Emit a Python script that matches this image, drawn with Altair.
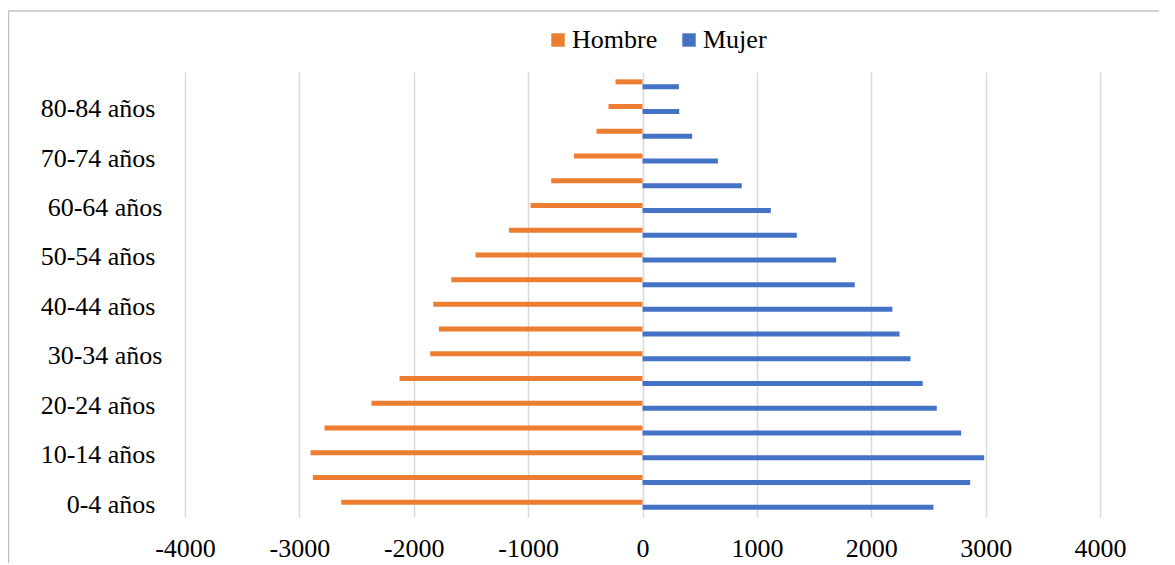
import altair as alt
import pandas as pd

# Age groups, bottom to top
grupos = ["0-4 años", "5-9 años", "10-14 años", "15-19 años", "20-24 años",
          "25-29 años", "30-34 años", "35-39 años", "40-44 años", "45-49 años",
          "50-54 años", "55-59 años", "60-64 años", "65-69 años", "70-74 años",
          "75-79 años", "80-84 años", "85 y más años"]
hombre = [-2634, -2882, -2902, -2780, -2370, -2124, -1856, -1780, -1830,
          -1672, -1460, -1168, -979, -798, -600, -402, -297, -236]
mujer = [2544, 2865, 2987, 2786, 2573, 2450, 2343, 2247, 2185,
         1856, 1693, 1349, 1122, 868, 659, 434, 321, 318]
etiquetas = ["0-4 años", "10-14 años", "20-24 años", "30-34 años", "40-44 años",
             "50-54 años", "60-64 años", "70-74 años", "80-84 años"]
ticks_x = [-4000, -3000, -2000, -1000, 0, 1000, 2000, 3000, 4000]
series = ["Hombre", "Mujer"]
colores = ["#ED7D31", "#4472C4"]

rows = []
for g, h, m in zip(grupos, hombre, mujer):
    rows.append({"grupo": g, "sexo": "Hombre", "valor": h})
    rows.append({"grupo": g, "sexo": "Mujer", "valor": m})
df = pd.DataFrame(rows)

W, H = 915, 445
FONT = "'Liberation Serif', 'Times New Roman', 'DejaVu Serif', serif"

bars = alt.Chart(df).mark_bar().encode(
    x=alt.X("valor:Q",
            scale=alt.Scale(domain=[-4000, 4000], nice=False, zero=False),
            axis=alt.Axis(values=ticks_x, title=None, labelExpr="'' + datum.value",
                          grid=True, domain=False, ticks=False, labelPadding=18,
                          labelFlush=False, labelOverlap=False,
                          labelFontSize=26, labelFont=FONT, labelColor="#000000",
                          gridColor="#d9d9d9", gridWidth=1.5)),
    y=alt.Y("grupo:N", sort=grupos[::-1],
            scale=alt.Scale(paddingInner=0.5955, paddingOuter=0.298),
            axis=alt.Axis(values=etiquetas, title=None, domain=False, ticks=False,
                          grid=False, labelFontSize=26, labelFont=FONT,
                          labelColor="#000000",
                          labelPadding={"condition": {"test": "datum.value === '60-64 años' || datum.value === '30-34 años'",
                                                      "value": 23}, "value": 30})),
    yOffset=alt.YOffset("sexo:N", sort=series,
                        scale=alt.Scale(paddingInner=0, paddingOuter=0)),
    color=alt.Color("sexo:N", scale=alt.Scale(domain=series, range=colores),
                    legend=alt.Legend(title=None, orient="none", legendX=360, legendY=-45,
                                      direction="horizontal", symbolType="square",
                                      symbolSize=180, labelFont=FONT, labelFontSize=26,
                                      labelColor="#000000", labelOffset=1,
                                      columnPadding=18, padding=0,
                                      symbolStrokeWidth=0, symbolOpacity=1)),
)

marco = alt.Data(values=[{}])
borde_izq = alt.Chart(marco).mark_rule(color="#c0c0c0", strokeWidth=1.5).encode(
    x=alt.value(-176.5), y=alt.value(-61), y2=alt.value(H + 46))
borde_sup = alt.Chart(marco).mark_rule(color="#c0c0c0", strokeWidth=1.5).encode(
    x=alt.value(-177), x2=alt.value(W + 59), y=alt.value(-61))

chart = alt.layer(bars, borde_izq, borde_sup).properties(
    width=W, height=H,
    padding={"left": 177, "top": 64, "right": 59, "bottom": 46},
    autosize=alt.AutoSizeParams(type="none"),
).configure_view(stroke=None)

chart.save("out.html", embed_options={"renderer": "svg", "actions": False})
